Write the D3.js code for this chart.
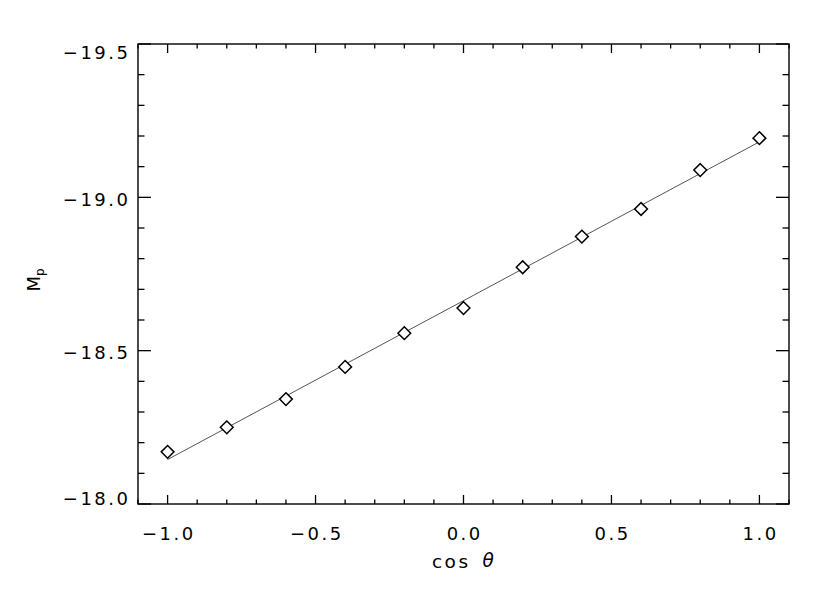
<!DOCTYPE html>
<html><head><meta charset="utf-8">
<script src="https://cdn.jsdelivr.net/npm/d3@7"></script>
<style>body{margin:0;background:#fff}text{font-family:"DejaVu Sans",sans-serif;fill:#000}</style>
</head><body><svg id="c" width="830" height="593"></svg>
<script>
// ---- data ----
const cosTheta = [-1.0, -0.8, -0.6, -0.4, -0.2, 0.0, 0.2, 0.4, 0.6, 0.8, 1.0];
const Mp = [-18.170, -18.250, -18.342, -18.447, -18.557, -18.639, -18.772, -18.872, -18.962, -19.089, -19.193];
const xTickValues = [-1.0, -0.5, 0.0, 0.5, 1.0];
const yTickValues = [-19.5, -19.0, -18.5, -18.0];
const xMinorValues = [-1.1,-0.9,-0.8,-0.7,-0.6,-0.4,-0.3,-0.2,-0.1,0.1,0.2,0.3,0.4,0.6,0.7,0.8,0.9,1.1];
const yMinorValues = [-19.4,-19.3,-19.2,-19.1,-18.9,-18.8,-18.7,-18.6,-18.4,-18.3,-18.2,-18.1];
const xTitle = "cos";
const xTitleGreek = "\u03B8";
const yTitle = "M", yTitleSub = "p";

// ---- layout ----
const L = 138, T = 44, R = 789, B = 504;
const svg = d3.select("#c");
const x = d3.scaleLinear().domain([-1.1, 1.1]).range([L, R]);
const y = d3.scaleLinear().domain([-19.5, -18.0]).range([T, B]);
const fmt = d3.format(".1f");

// linear least-squares fit of the points
const mx = d3.mean(cosTheta), my = d3.mean(Mp);
const slope = d3.sum(cosTheta.map((v, i) => (v - mx) * (Mp[i] - my))) / d3.sum(cosTheta.map(v => (v - mx) ** 2));
const fit = v => my + slope * (v - mx);
const fitX = [cosTheta[0], cosTheta[cosTheta.length - 1]];

svg.append("path")
  .attr("d", d3.line().x(d => x(d)).y(d => y(fit(d)))(fitX))
  .attr("fill", "none").attr("stroke", "#555").attr("stroke-width", 1);

// ---- frame ----
svg.append("rect").attr("x", L).attr("y", T).attr("width", R - L).attr("height", B - T)
  .attr("fill", "none").attr("stroke", "#000").attr("stroke-width", 1.4);

const g = svg.append("g").attr("stroke", "#000").attr("stroke-width", 1.3);
const xMaj = 9, xMin = 4.5, yMaj = 13, yMin = 6.5;
function xt(vals, len) {
  vals.forEach(v => {
    g.append("line").attr("x1", x(v)).attr("x2", x(v)).attr("y1", B).attr("y2", B - len);
    g.append("line").attr("x1", x(v)).attr("x2", x(v)).attr("y1", T).attr("y2", T + len);
  });
}
function yt(vals, len) {
  vals.forEach(v => {
    g.append("line").attr("y1", y(v)).attr("y2", y(v)).attr("x1", L).attr("x2", L + len);
    g.append("line").attr("y1", y(v)).attr("y2", y(v)).attr("x1", R).attr("x2", R - len);
  });
}
xt(xTickValues, xMaj); xt(xMinorValues, xMin);
yt(yTickValues, yMaj); yt(yMinorValues, yMin);

// ---- tick labels ----
svg.selectAll(".xl").data(xTickValues).enter().append("text")
  .attr("x", d => x(d) + 1.2).attr("y", B + 35.5)
  .attr("text-anchor", "middle").attr("font-size", 18).attr("letter-spacing", 2.5)
  .text(d => fmt(d));

svg.selectAll(".yl").data(yTickValues).enter().append("text")
  .attr("x", L - 7.5).attr("y", (d, i) => i === 0 ? y(d) + 15.3 : (i === yTickValues.length - 1 ? y(d) + 1.4 : y(d) + 8.8))
  .attr("text-anchor", "end").attr("font-size", 18).attr("letter-spacing", 2.5)
  .text(d => fmt(d));

// ---- titles ----
const cx = (L + R) / 2;
svg.append("text").attr("x", cx - 31.6).attr("y", B + 63.5)
  .attr("font-size", 18.5).attr("letter-spacing", 2.5).text(xTitle);
svg.append("text").attr("x", cx + 19).attr("y", B + 63)
  .attr("font-size", 18.5).attr("font-style", "italic").text(xTitleGreek);

const yt2 = svg.append("text").attr("transform", `translate(40,${(T + B) / 2 + 6}) rotate(-90)`)
  .attr("text-anchor", "middle").attr("font-size", 18);
yt2.append("tspan").text(yTitle);
yt2.append("tspan").attr("font-size", 12).attr("dy", 4).text(yTitleSub);

// ---- points ----
const sym = d3.symbol().type(d3.symbolDiamond2).size(2 * 7.2 * 7.2);
svg.selectAll(".pt").data(cosTheta).enter().append("path")
  .attr("transform", (d, i) => `translate(${x(d)},${y(Mp[i])})`)
  .attr("d", sym).attr("fill", "#fff").attr("stroke", "#000").attr("stroke-width", 1.5);
</script></body></html>
